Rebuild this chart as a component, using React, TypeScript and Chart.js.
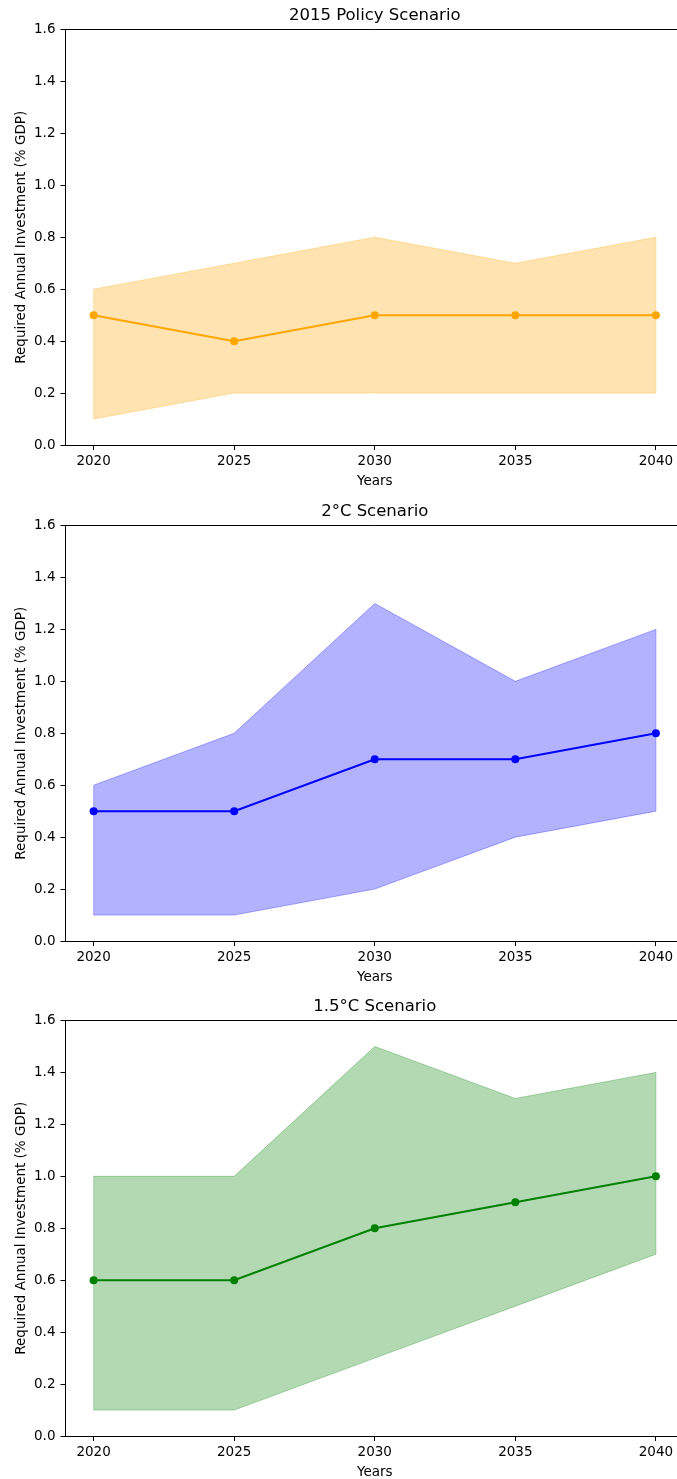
import React, { useEffect, useRef } from "react";
import { Chart, registerables } from "chart.js";

Chart.register(...registerables);

// ---- data ----
const years = [2020, 2025, 2030, 2035, 2040];
const yTicks = [0, 0.2, 0.4, 0.6, 0.8, 1.0, 1.2, 1.4, 1.6];
const titles = ["2015 Policy Scenario", "2°C Scenario", "1.5°C Scenario"];

const policyMean = [0.5, 0.4, 0.5, 0.5, 0.5];
const policyUpper = [0.6, 0.7, 0.8, 0.7, 0.8];
const policyLower = [0.1, 0.2, 0.2, 0.2, 0.2];

const twoMean = [0.5, 0.5, 0.7, 0.7, 0.8];
const twoUpper = [0.6, 0.8, 1.3, 1.0, 1.2];
const twoLower = [0.1, 0.1, 0.2, 0.4, 0.5];

const oneFiveMean = [0.6, 0.6, 0.8, 0.9, 1.0];
const oneFiveUpper = [1.0, 1.0, 1.5, 1.3, 1.4];
const oneFiveLower = [0.1, 0.1, 0.3, 0.5, 0.7];

const FONT = "'DejaVu Sans', sans-serif";

const panels = [
  { title: titles[0], mean: policyMean, upper: policyUpper, lower: policyLower, line: "#FFA500", fill: "rgba(255,165,0,0.3)" },
  { title: titles[1], mean: twoMean, upper: twoUpper, lower: twoLower, line: "#0000FF", fill: "rgba(0,0,255,0.3)" },
  { title: titles[2], mean: oneFiveMean, upper: oneFiveUpper, lower: oneFiveLower, line: "#008000", fill: "rgba(0,128,0,0.3)" },
];

const panelTops = [0, 496, 990.5];
const CANVAS_W = 700;
const CANVAS_H = 495;

const framePlugin = {
  id: "frame",
  afterDraw(chart: any) {
    const { ctx, chartArea } = chart;
    const { left, right, top } = chartArea;
    ctx.save();
    ctx.strokeStyle = "#000";
    ctx.lineWidth = 1;
    ctx.beginPath();
    ctx.moveTo(left, top);
    ctx.lineTo(right, top);
    ctx.moveTo(right, top);
    ctx.lineTo(right, chartArea.bottom);
    ctx.stroke();
    ctx.restore();
  },
};

// closes the band outline at both ends, like matplotlib's fill_between polygon edge
const bandEdgePlugin = {
  id: "bandEdge",
  beforeDatasetsDraw(chart: any) {
    const up = chart.getDatasetMeta(1).data;
    const lo = chart.getDatasetMeta(2).data;
    if (!up.length || !lo.length) return;
    const color = chart.data.datasets[1].borderColor;
    const { ctx } = chart;
    ctx.save();
    ctx.strokeStyle = color;
    ctx.lineWidth = 1;
    ctx.beginPath();
    const a = up[0], b = lo[0];
    const c = up[up.length - 1], d = lo[lo.length - 1];
    ctx.moveTo(a.x, a.y);
    ctx.lineTo(b.x, b.y);
    ctx.moveTo(c.x, c.y);
    ctx.lineTo(d.x, d.y);
    ctx.stroke();
    ctx.restore();
  },
};

function Panel({ p, top }: { p: any; top: number }) {
  const ref = useRef<HTMLCanvasElement>(null);
  useEffect(() => {
    const toPts = (arr: number[]) => years.map((x, i) => ({ x, y: arr[i] }));
    const tickFont = { family: FONT, size: 13.5, lineHeight: 1.2 };
    const chart = new Chart(ref.current as HTMLCanvasElement, {
      type: "line",
      data: {
        datasets: [
          {
            data: toPts(p.mean),
            borderColor: p.line,
            backgroundColor: p.line,
            borderWidth: 2,
            pointRadius: 4,
            pointHoverRadius: 4,
            pointBorderWidth: 0,
            pointBackgroundColor: p.line,
            fill: false,
            tension: 0,
          },
          {
            data: toPts(p.upper),
            borderColor: p.fill,
            backgroundColor: p.fill,
            borderWidth: 1,
            pointRadius: 0,
            pointHoverRadius: 0,
            fill: "+1",
            tension: 0,
          },
          {
            data: toPts(p.lower),
            borderColor: p.fill,
            backgroundColor: p.fill,
            borderWidth: 1,
            pointRadius: 0,
            pointHoverRadius: 0,
            fill: false,
            tension: 0,
          },
        ],
      } as any,
      options: {
        responsive: false,
        animation: false,
        devicePixelRatio: 1,
        events: [],
        layout: { padding: { left: 0, right: 16, top: 0, bottom: 0 } },
        plugins: {
          legend: { display: false },
          tooltip: { enabled: false },
          title: {
            display: true,
            text: p.title,
            fullSize: false,
            color: "#000",
            font: { family: FONT, size: 16.5, weight: "normal", lineHeight: 1.2 },
            padding: { top: 6.1, bottom: 3.6 },
          },
        },
        scales: {
          x: {
            type: "linear",
            min: 2019,
            max: 2041,
            afterBuildTicks: (s: any) => {
              s.ticks = years.map((v) => ({ value: v }));
            },
            afterFit: (s: any) => {
              s.height = 50;
            },
            ticks: {
              color: "#000",
              font: tickFont,
              padding: 3.5,
              maxRotation: 0,
              autoSkip: false,
              callback: (v: any) => String(v),
            },
            grid: { drawOnChartArea: false, drawTicks: true, tickLength: 5, color: "#000", lineWidth: 1 },
            border: { display: true, color: "#000", width: 1 },
            title: {
              display: true,
              text: "Years",
              color: "#000",
              font: tickFont,
              padding: { top: 0, bottom: 5.2 },
            },
          },
          y: {
            type: "linear",
            min: 0,
            max: 1.6,
            afterBuildTicks: (s: any) => {
              s.ticks = yTicks.map((v) => ({ value: v }));
            },
            afterFit: (s: any) => {
              s.width = 65.5;
            },
            ticks: {
              color: "#000",
              font: tickFont,
              padding: 5,
              autoSkip: false,
              callback: (v: any) => Number(v).toFixed(1),
            },
            grid: { drawOnChartArea: false, drawTicks: true, tickLength: 5, color: "#000", lineWidth: 1 },
            border: { display: true, color: "#000", width: 1 },
            title: {
              display: true,
              text: "Required Annual Investment (% GDP)",
              color: "#000",
              font: tickFont,
              padding: { top: 13, bottom: 0 },
            },
          },
        },
      } as any,
      plugins: [bandEdgePlugin, framePlugin],
    });
    return () => chart.destroy();
  }, [p]);
  return (
    <canvas
      ref={ref}
      width={CANVAS_W}
      height={CANVAS_H}
      style={{ position: "absolute", left: 0, top, width: CANVAS_W, height: CANVAS_H, display: "block" }}
    />
  );
}

export default function App() {
  return (
    <div
      style={{
        position: "absolute",
        left: 0,
        top: 0,
        width: 677,
        height: 1479,
        overflow: "hidden",
        background: "#fff",
      }}
    >
      {panels.map((p, i) => (
        <Panel key={i} p={p} top={panelTops[i]} />
      ))}
    </div>
  );
}
